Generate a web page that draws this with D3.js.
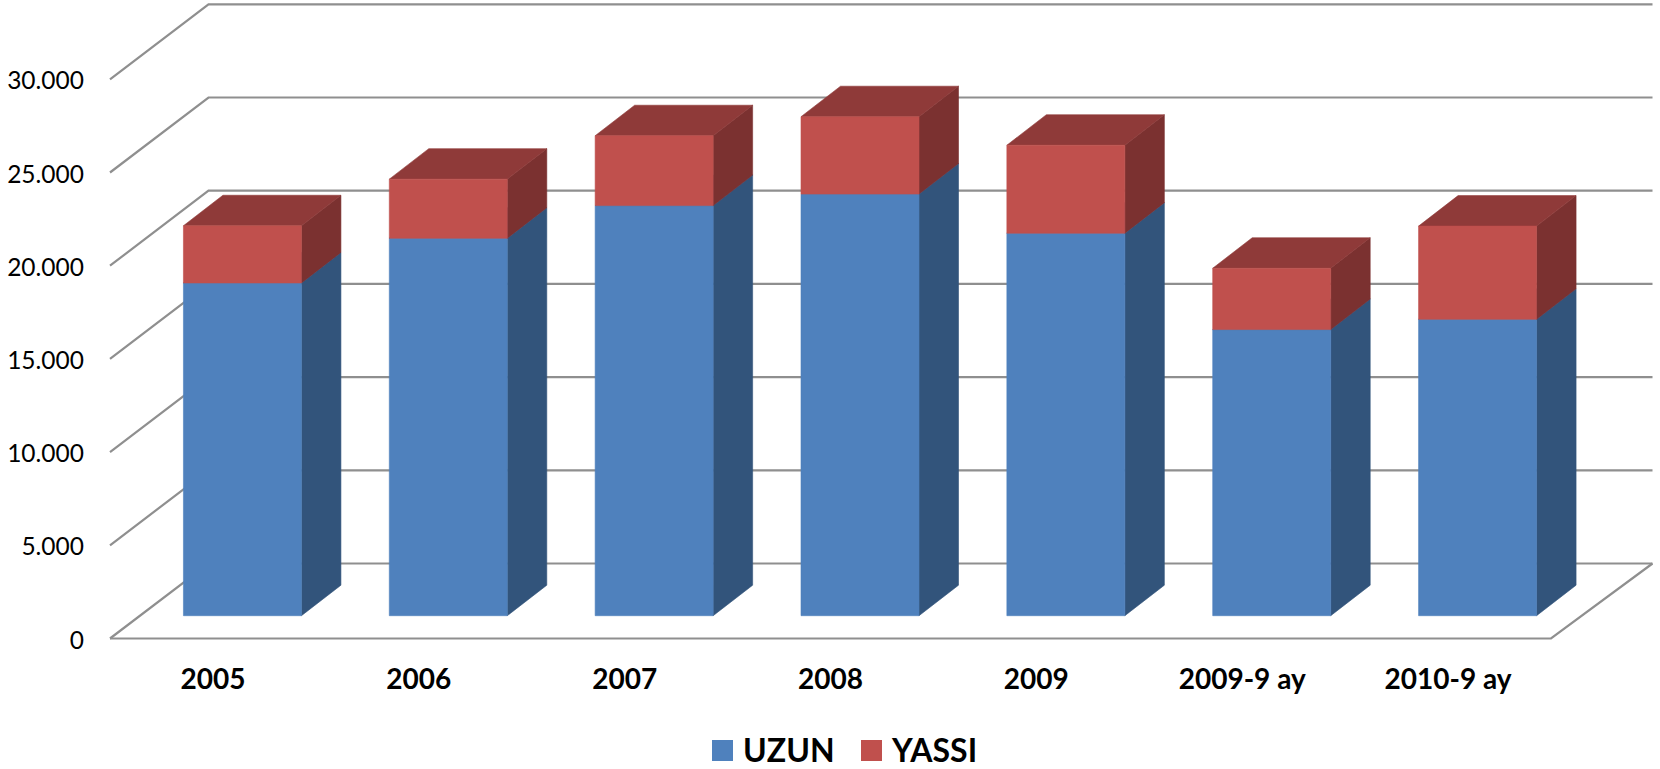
<!DOCTYPE html>
<html><head><meta charset="utf-8">
<script src="https://cdn.jsdelivr.net/npm/d3@7"></script>
<style>html,body{margin:0;padding:0;background:#fff}svg{display:block}text{font-family:Lato,"Open Sans",sans-serif;fill:#000}</style>
</head><body><svg id="c" width="1660" height="769"></svg>
<script>
const categories=["2005","2006","2007","2008","2009","2009-9 ay","2010-9 ay"];
const uzun=[17850,20250,22000,22620,20520,15350,15900];
const yassi=[3070,3170,3750,4150,4720,3290,5000];
const seriesNames=["UZUN","YASSI"];
const yTicks=[0,5000,10000,15000,20000,25000,30000];

const floorY=638.5, perUnit=93.2/5000;
const y=d3.scaleLinear().domain([0,35000]).range([floorY,floorY-35000*perUnit]);
const x=d3.scaleBand().domain(categories).range([110,1551]);
const wallDx=98.5, wallDy=-75;        // depth of the chart box
const barInX=29.5, barInY=-22.8;      // how far into the box the bars stand
const barW=118, barDx=39.5, barDy=-30.5; // bar width and depth
const svg=d3.select("#c");
const grid="#8f8f8f";

const poly=(g,pts,fill)=>g.append("polygon").attr("points",pts.map(p=>p.join(",")).join(" "))
  .attr("fill",fill).attr("stroke",fill).attr("stroke-width",0.6);

// gridlines on the two walls
const gg=svg.append("g").attr("fill","none");
yTicks.forEach(t=>{
  const yy=y(t);
  gg.append("path").attr("d",`M${x.range()[0]},${yy}L${x.range()[0]+wallDx},${yy+wallDy}L${x.range()[1]+wallDx+3},${yy+wallDy}`)
    .attr("stroke",grid).attr("stroke-width",2.2);
});
// floor
gg.append("path").attr("d",`M${x.range()[0]},${floorY}L${x.range()[1]},${floorY}L${x.range()[1]+wallDx+3},${floorY+wallDy}`)
  .attr("stroke",grid).attr("stroke-width",2.2);

// bars
const colors=[{front:"#4f81bd",side:"#32547b",top:"#3d6596"},{front:"#c0504d",side:"#7b3130",top:"#8f3a39"}];
const bars=svg.append("g");
categories.forEach((c,i)=>{
  const x0=x(c)+(x.bandwidth()-barW)/2+barInX, x1=x0+barW;
  let base=0;
  [uzun[i],yassi[i]].forEach((v,s)=>{
    const yb=y(base)+barInY, yt=y(base+v)+barInY, k=colors[s];
    poly(bars,[[x1,yb],[x1+barDx,yb+barDy],[x1+barDx,yt+barDy],[x1,yt]],k.side);
    poly(bars,[[x0,yt],[x1,yt],[x1+barDx,yt+barDy],[x0+barDx,yt+barDy]],k.top);
    poly(bars,[[x0,yb],[x1,yb],[x1,yt],[x0,yt]],k.front);
    base+=v;
  });
});

// axes
const yAxis=d3.axisLeft(y).tickValues(yTicks).tickSize(0).tickPadding(0)
  .tickFormat(d=>d3.format(",")(d).replace(/,/g,"."));
const ya=svg.append("g").attr("transform","translate(84,1)").call(yAxis);
ya.select(".domain").remove();
ya.selectAll("text").attr("font-size",24.5).attr("dy","0.35em").style("font-family","Lato");

const xAxis=d3.axisBottom(x).tickSize(0).tickPadding(0);
const xa=svg.append("g").attr("transform","translate(0,669)").call(xAxis);
xa.select(".domain").remove();
xa.selectAll("text").attr("font-size",28).attr("font-weight",700).attr("dy","0.71em").style("font-family","Lato");

// legend
const legX=[712,861];
const lg=svg.append("g");
seriesNames.forEach((n,i)=>{
  lg.append("rect").attr("x",legX[i]).attr("y",740).attr("width",21).attr("height",21).attr("fill",colors[i].front);
  lg.append("text").attr("x",legX[i]+31).attr("y",762).attr("font-size",32).attr("font-weight",700).text(n);
});
</script></body></html>
